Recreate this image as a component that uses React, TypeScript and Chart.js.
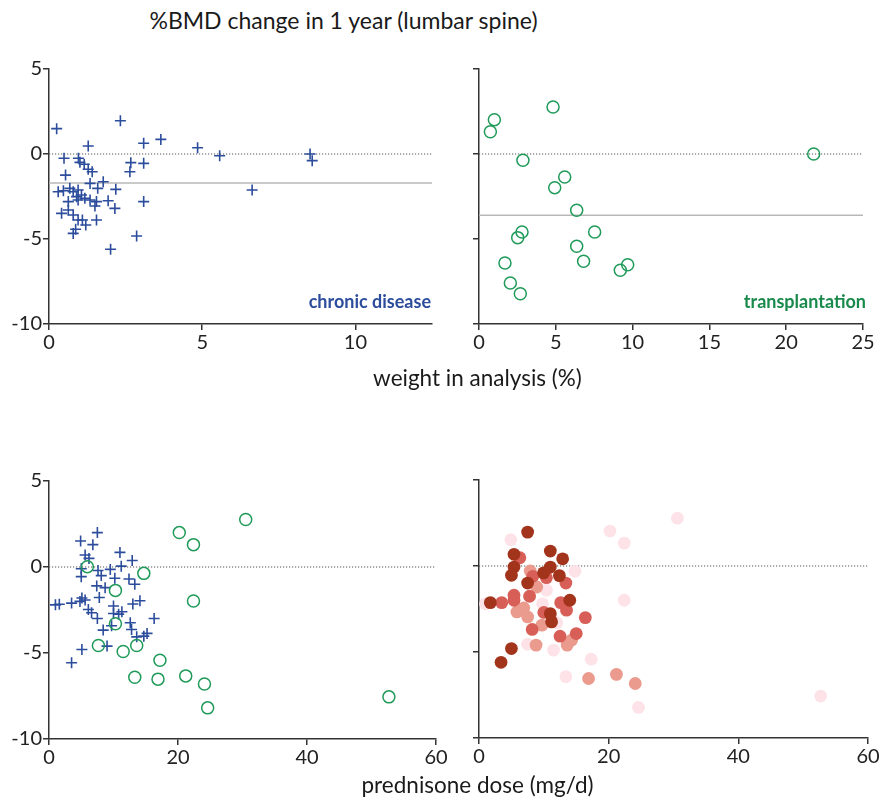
import React, { useEffect, useRef } from 'react';
import { Chart, registerables } from 'chart.js';
Chart.register(...registerables);

// ---- data ----
const chronicWeightChange: number[][] = [
  [0.25, 1.49], [2.33, 1.96], [1.28, 0.47], [3.09, 0.63], [3.65, 0.86], [4.85, 0.37],
  [5.57, -0.1], [8.52, 0.0], [8.59, -0.39], [6.63, -2.12],
  [0.49, -0.25], [0.96, -0.25], [1.01, -0.49], [1.15, -0.6], [1.28, -0.9], [1.41, -1.04],
  [2.67, -0.51], [3.09, -0.55], [2.64, -1.04], [0.54, -1.24], [1.34, -1.73], [1.77, -1.63],
  [1.59, -2.02], [2.18, -2.08], [0.3, -2.22], [0.47, -2.16], [0.68, -2.02], [0.79, -2.22],
  [0.95, -2.12], [1.06, -2.41], [0.9, -2.51], [1.17, -2.61], [0.95, -2.71], [0.63, -2.8],
  [1.34, -2.71], [1.55, -2.8], [1.5, -3.06], [1.93, -2.75], [2.15, -3.2], [3.09, -2.8],
  [0.41, -3.49], [0.63, -3.29], [0.79, -3.59], [0.95, -3.88], [1.09, -3.88], [1.2, -4.18],
  [1.55, -3.88], [0.87, -4.43], [0.79, -4.67], [2.86, -4.82], [2.01, -5.6],
];
const transplantWeightChange: number[][] = [
  [4.82, 2.76], [1.0, 2.02], [0.74, 1.31], [2.86, -0.37], [21.79, 0.0], [5.58, -1.35],
  [4.93, -1.98], [6.36, -3.31], [2.8, -4.59], [7.53, -4.59], [2.52, -4.92], [6.36, -5.43],
  [6.81, -6.31], [1.69, -6.41], [9.68, -6.51], [9.2, -6.84], [2.04, -7.59], [2.69, -8.22],
];
const chronicDoseChange: number[][] = [
  [7.5, 2.0], [4.9, 1.51], [6.8, 1.3], [11.0, 0.85], [5.6, 0.7], [6.2, 0.5], [12.9, 0.38],
  [5.0, -0.1], [7.6, -0.2], [9.5, -0.14], [11.2, 0.05], [8.1, -0.5], [5.0, -0.56], [10.2, -0.65],
  [12.4, -0.7], [13.3, -1.0], [7.4, -1.1], [8.7, -1.2], [7.8, -1.77], [5.1, -1.8], [5.6, -1.92],
  [4.8, -2.0], [3.5, -2.1], [1.6, -2.17], [1.0, -2.2], [14.1, -1.96], [13.0, -2.15], [10.0, -2.27],
  [6.1, -2.47], [6.6, -2.66], [10.0, -2.7], [10.8, -2.74], [11.3, -2.6], [7.5, -2.99], [16.3, -2.99],
  [12.6, -3.24], [12.8, -3.63], [8.4, -3.67], [9.7, -3.42], [13.6, -4.06], [15.2, -3.86],
  [14.7, -4.02], [9.0, -4.6], [5.1, -4.8], [3.5, -5.57],
];
const transplantDoseChange: number[][] = [
  [30.5, 2.76], [20.2, 2.0], [22.4, 1.3], [14.7, -0.37], [5.95, 0.02], [10.3, -1.36],
  [22.4, -1.98], [10.3, -3.3], [7.66, -4.56], [13.6, -4.56], [11.5, -4.91], [17.2, -5.42],
  [21.2, -6.33], [13.3, -6.41], [16.9, -6.52], [24.1, -6.8], [52.7, -7.55], [24.6, -8.19],
];
const doseDark: number[][] = [
  [7.5, 1.97], [5.4, 0.68], [11.0, 0.87], [12.9, 0.42], [5.4, -0.06], [11.0, -0.06], [9.96, -0.4],
  [5.0, -0.54], [12.4, -0.56], [7.5, -0.99], [1.75, -2.13], [14.0, -1.99], [11.0, -2.77],
  [11.2, -3.25], [5.0, -4.8], [3.4, -5.6],
];
const doseMedium: number[][] = [
  [6.3, 0.48], [10.4, -0.68], [8.3, -0.6], [13.4, -0.99], [7.8, -1.76], [5.4, -1.7], [5.4, -1.99],
  [3.5, -2.13], [12.6, -2.13], [13.5, -2.57], [10.0, -2.7], [16.4, -3.0], [8.2, -3.69],
  [12.5, -4.08], [15.0, -3.93],
];
const doseLight: number[][] = [
  [7.9, -0.29], [8.9, -1.22], [6.9, -2.44], [5.85, -2.67], [7.5, -2.96], [9.7, -3.44], [8.8, -4.6],
  [13.6, -4.6], [14.3, -4.3], [16.9, -6.54], [21.2, -6.3], [24.1, -6.83],
];
const doseVeryLight: number[][] = [
  [4.9, 1.53], [30.6, 2.78], [20.2, 2.03], [22.4, 1.33], [14.8, -0.31], [22.4, -1.99],
  [10.4, -1.41], [9.8, -2.2], [7.5, -4.55], [11.5, -4.89], [17.3, -5.42], [13.4, -6.44],
  [52.7, -7.56], [24.6, -8.22], [1.0, -2.2], [12.0, -3.3],
];
const meanChronic = -1.7;
const meanTransplant = -3.6;
const yTicks = [-10, -5, 0, 5];

const BLUE = '#2c4c9c';
const GREEN = '#1f9a58';
const pts = (a: number[][]) => a.map(([x, y]) => ({ x, y }));
const hline = (y: number, x0: number, x1: number, dotted: boolean) => ({
  data: [{ x: x0, y }, { x: x1, y }],
  showLine: true,
  pointRadius: 0,
  borderColor: dotted ? '#555' : '#b8b8b8',
  borderWidth: dotted ? 1 : 1.5,
  borderDash: dotted ? [1.2, 1.8] : [],
  order: 10,
});

function makeOptions(xMax: number, xStep: number, showY: boolean, yWidth: number, xHeight: number, pad: any) {
  const font = { family: 'Lato, "Open Sans", sans-serif', size: 20 };
  return {
    responsive: false,
    animation: false,
    devicePixelRatio: 1,
    layout: { padding: pad },
    plugins: { legend: { display: false }, tooltip: { enabled: false }, title: { display: false } },
    scales: {
      x: {
        type: 'linear',
        min: 0,
        max: xMax,
        ticks: { stepSize: xStep, includeBounds: false, autoSkip: false, color: '#222', font, padding: 1, maxRotation: 0 },
        grid: { drawOnChartArea: false, drawTicks: true, tickLength: 6, color: '#333', lineWidth: 1.5 },
        border: { display: true, color: '#333', width: 1.5 },
        afterFit: (s: any) => { s.height = xHeight; },
      },
      y: {
        type: 'linear',
        min: -10,
        max: 5,
        afterBuildTicks: (s: any) => { s.ticks = yTicks.map((v) => ({ value: v })); },
        ticks: {
          color: '#222', font, padding: 1,
          callback: (v: any) => (showY ? String(v) : ''),
        },
        grid: { drawOnChartArea: false, drawTicks: true, tickLength: 6, color: '#333', lineWidth: 1.5 },
        border: { display: true, color: '#333', width: 1.5 },
        afterFit: (s: any) => { s.width = yWidth; },
      },
    },
  };
}

function useChart(ref: React.RefObject<HTMLCanvasElement>, build: () => any) {
  useEffect(() => {
    if (!ref.current) return;
    const c = new Chart(ref.current, build());
    return () => c.destroy();
  }, []);
}

const crossStyle = (d: number[][]) => ({
  data: pts(d), pointStyle: 'cross', pointRadius: 5.5, borderColor: BLUE, backgroundColor: BLUE, pointBorderWidth: 1.6, order: 2,
});
const circleStyle = (d: number[][]) => ({
  data: pts(d), pointStyle: 'circle', pointRadius: 6, borderColor: GREEN, backgroundColor: 'rgba(0,0,0,0)', pointBorderWidth: 1.5, order: 1,
});
const dotStyle = (d: number[][], color: string, order: number) => ({
  data: pts(d), pointStyle: 'circle', pointRadius: 6.4, borderColor: color, backgroundColor: color, pointBorderWidth: 0, order,
});

export default function App() {
  const tl = useRef<HTMLCanvasElement>(null);
  const tr = useRef<HTMLCanvasElement>(null);
  const bl = useRef<HTMLCanvasElement>(null);
  const br = useRef<HTMLCanvasElement>(null);

  useChart(tl, () => ({
    type: 'scatter',
    data: { datasets: [hline(0, 0, 12.5, true), hline(meanChronic, 0, 12.5, false), crossStyle(chronicWeightChange)] },
    options: makeOptions(12.5, 5, true, 49, 46, { top: 19, right: 13, left: 0, bottom: 0 }),
  }));
  useChart(tr, () => ({
    type: 'scatter',
    data: { datasets: [hline(0, 0, 25, true), hline(meanTransplant, 0, 25, false), circleStyle(transplantWeightChange)] },
    options: makeOptions(25, 5, false, 34, 46, { top: 19, right: 22, left: 0, bottom: 0 }),
  }));
  useChart(bl, () => ({
    type: 'scatter',
    data: { datasets: [hline(0, 0, 60, true), crossStyle(chronicDoseChange), circleStyle(transplantDoseChange)] },
    options: makeOptions(60, 20, true, 49, 41, { top: 21, right: 14, left: 0, bottom: 0 }),
  }));
  useChart(br, () => ({
    type: 'scatter',
    data: {
      datasets: [
        hline(0, 0, 60, true),
        dotStyle(doseVeryLight, '#fde3e8', 9),
        dotStyle(doseLight, '#eb9a8e', 8),
        dotStyle(doseMedium, '#d75f58', 7),
        dotStyle(doseDark, '#a3341c', 6),
      ],
    },
    options: makeOptions(60, 20, false, 34, 42, { top: 20, right: 21, left: 0, bottom: 0 }),
  }));

  const font = 'Lato, "Open Sans", sans-serif';
  const abs = (s: any) => ({ position: 'absolute' as const, ...s });
  return (
    <div style={{ position: 'absolute', left: 0, top: 0, width: 889, height: 801, background: '#fff', fontFamily: font, color: '#1a1a1a' }}>
      <div style={abs({ left: 0, width: 687, top: 5, textAlign: 'center', fontSize: 23, lineHeight: '30px' })}>%BMD change in 1 year (lumbar spine)</div>
      <canvas ref={tl} width={445} height={320} style={abs({ left: 0, top: 50 })} />
      <canvas ref={tr} width={440} height={320} style={abs({ left: 445, top: 50 })} />
      <canvas ref={bl} width={450} height={320} style={abs({ left: 0, top: 460 })} />
      <canvas ref={br} width={444} height={320} style={abs({ left: 445, top: 460 })} />
      <div style={abs({ left: 200, width: 231, top: 289, textAlign: 'right', fontSize: 18, fontWeight: 700, color: BLUE, lineHeight: '24px' })}>chronic disease</div>
      <div style={abs({ left: 630, width: 236, top: 289, textAlign: 'right', fontSize: 18, fontWeight: 700, color: '#1a8a4c', lineHeight: '24px' })}>transplantation</div>
      <div style={abs({ left: 0, width: 955, top: 363, textAlign: 'center', fontSize: 22.5, lineHeight: '30px' })}>weight in analysis (%)</div>
      <div style={abs({ left: 0, width: 955, top: 770, textAlign: 'center', fontSize: 22.5, lineHeight: '30px' })}>prednisone dose (mg/d)</div>
    </div>
  );
}
